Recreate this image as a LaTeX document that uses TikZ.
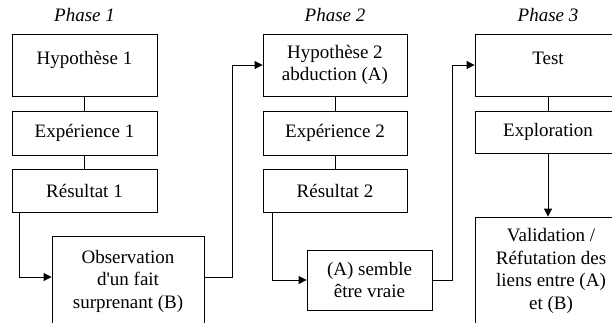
\documentclass[tikz,border=0pt]{standalone}
\usepackage{fontspec}
\setmainfont{Liberation Serif}
\usetikzlibrary{positioning, arrows.meta}

\begin{document}
\begin{tikzpicture}[x=1pt, y=-1pt,
    box/.style={draw, line width=0.9pt, align=center, inner sep=0pt,
      font=\fontsize{19}{22.5}\selectfont},
    phase/.style={font=\fontsize{19}{22.5}\selectfont\itshape},
    link/.style={line width=0.9pt},
    arr/.style={line width=0.9pt, -{Triangle[length=8pt,width=8pt]}}]
  \useasboundingbox (0,0) rectangle (612,322);
  \clip (0,0) rectangle (612,322);
  % Phase 1
  \node[phase] (ph1) at (84.5,15) {Phase 1};
  \node[box, minimum width=145pt, minimum height=62pt] (hyp1) at (84.5,65) {Hypothèse 1\\[-16pt]\strut};
  \node[box, minimum width=145pt, minimum height=44pt] (exp1) at (84.5,133) {Expérience 1};
  \node[box, minimum width=145pt, minimum height=43pt] (res1) at (84.5,190.5) {Résultat 1};
  \node[box, minimum width=152pt, minimum height=90pt] (obs) at (128,281) {Observation\\d\textquotesingle un fait\\surprenant (B)};
  % Phase 2
  \node[phase] (ph2) at (335,15) {Phase 2};
  \node[box, minimum width=144pt, minimum height=62pt] (hyp2) at (335,65) {Hypothèse 2\\abduction (A)};
  \node[box, minimum width=144pt, minimum height=44pt] (exp2) at (335,133) {Expérience 2};
  \node[box, minimum width=144pt, minimum height=43pt] (res2) at (335,190.5) {Résultat 2};
  \node[box, minimum width=125pt, minimum height=60pt] (vraie) at (369.5,280) {(A) semble\\être vraie};
  % Phase 3
  \node[phase] (ph3) at (548,15) {Phase 3};
  \node[box, minimum width=146pt, minimum height=62pt] (test) at (548,65) {Test\\[-16pt]\strut};
  \node[box, minimum width=146pt, minimum height=42pt] (expl) at (548,132) {Exploration};
  \node[box, minimum width=152pt, minimum height=108pt] (valid) at (551,271) {Validation /\\Réfutation des\\liens entre (A)\\et (B)};
  % liens
  \draw[link] (hyp1) -- (exp1);
  \draw[link] (exp1) -- (res1);
  \draw[arr] (res1.south west) ++(8,0) |- ([yshift=4pt]obs.west);
  \draw[arr] ([yshift=4pt]obs.east) -- ++(28,0) |- (hyp2.west);
  \draw[link] (hyp2) -- (exp2);
  \draw[link] (exp2) -- (res2);
  \draw[arr] (res2.south west) ++(10,0) |- (vraie.west);
  \draw[arr] (vraie.east) -- ++(20,0) |- (test.west);
  \draw[link] (test) -- (expl);
  \draw[arr] (expl) -- (expl |- valid.north);
\end{tikzpicture}
\end{document}
